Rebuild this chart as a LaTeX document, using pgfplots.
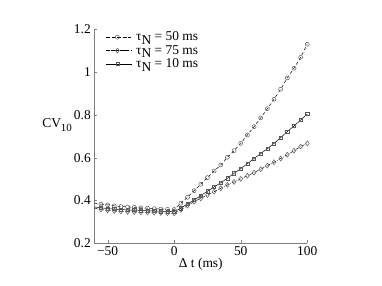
\documentclass[border=0pt]{standalone}
\usepackage{fontspec}
\setmainfont{Liberation Serif}
\usepackage{pgfplots}
\pgfplotsset{compat=1.18}
\begin{document}
\begin{tikzpicture}
\begin{axis}[
  name=ax,
  scale only axis,
  width=213bp, height=214bp,
  xmin=-60, xmax=100, ymin=0.2, ymax=1.2,
  axis lines*=left,
  axis line style={-, black!50},
  tick style={black!50},
  tick align=inside,
  major tick length=3bp,
  xtick={-50,0,50,100},
  xticklabels={−50,0,50,100},
  ytick={0.2,0.4,0.6,0.8,1,1.2},
  yticklabels={0.2,0.4,0.6,0.8,1,1.2},
  font=\fontsize{13.5}{15}\selectfont,
  /pgf/number format/assume math mode=true,
  xlabel={Δ t (ms)},
  xlabel style={at={(axis description cs:0.5,-0.115)}, anchor=base},
  ylabel={CV\raisebox{-0.75ex}{\fontsize{11}{12}\selectfont 10}},
  ylabel style={rotate=-90, at={(axis description cs:-0.245,0.543)}, anchor=base west, inner sep=0pt},
  legend cell align=left,
  legend style={draw=none, fill=none, at={(axis description cs:0.05,1.0)}, anchor=north west,
    font=\fontsize{13.5}{15}\selectfont, row sep=0bp, column sep=2bp, inner sep=1bp,
    nodes={inner sep=1.5bp}},
  legend image code/.code={\path (-1bp,0bp) -- (25bp,0bp);
     \draw[#1, mark=none] (0bp,0bp)--(20bp,0bp);
     \draw[#1, only marks] plot coordinates {(10bp,0bp)};},
  every axis plot/.append style={line width=0.5pt, black},
  mark size=2bp,
]
\addplot[dash pattern=on 3bp off 2.5bp, mark=o, mark options={solid, black!65}] coordinates {
(-55,0.383)(-50,0.380)(-45,0.375)(-40,0.372)(-35,0.370)(-30,0.368)(-25,0.366)(-20,0.364)(-15,0.362)(-10,0.360)(-5,0.359)(0,0.358)
(5,0.387)(10,0.415)(15,0.446)(20,0.476)(25,0.507)(30,0.538)(35,0.566)(40,0.602)(45,0.633)(50,0.667)
(55,0.706)(60,0.745)(65,0.786)(70,0.829)(75,0.873)(80,0.920)(85,0.973)(90,1.018)(95,1.069)(100,1.130)};
\addlegendentry{τ\raisebox{-0.6ex}{N} = 50 ms}
\addplot[dash pattern=on 3bp off 1.5bp on 0.6bp off 1.5bp, mark=diamond, mark options={solid, black!65}, mark size=2.5bp] coordinates {
(-55,0.358)(-50,0.354)(-45,0.351)(-40,0.349)(-35,0.347)(-30,0.346)(-25,0.345)(-20,0.344)(-15,0.343)(-10,0.342)(-5,0.341)(0,0.340)
(5,0.356)(10,0.376)(15,0.395)(20,0.410)(25,0.426)(30,0.441)(35,0.457)(40,0.473)(45,0.487)(50,0.501)
(55,0.516)(60,0.530)(65,0.546)(70,0.563)(75,0.579)(80,0.596)(85,0.614)(90,0.633)(95,0.652)(100,0.667)};
\addlegendentry{τ\raisebox{-0.6ex}{N} = 75 ms}
\addplot[solid, mark=square, mark options={solid, black!65}, mark size=1.6bp] coordinates {
(-55,0.366)(-50,0.362)(-45,0.360)(-40,0.358)(-35,0.356)(-30,0.355)(-25,0.354)(-20,0.352)(-15,0.351)(-10,0.350)(-5,0.349)(0,0.348)
(5,0.364)(10,0.384)(15,0.402)(20,0.423)(25,0.443)(30,0.463)(35,0.483)(40,0.504)(45,0.527)(50,0.549)
(55,0.572)(60,0.596)(65,0.619)(70,0.642)(75,0.667)(80,0.694)(85,0.722)(90,0.748)(95,0.776)(100,0.804)};
\addlegendentry{τ\raisebox{-0.6ex}{N} = 10 ms}
\addplot[forget plot, dash pattern=on 3bp off 2.5bp] coordinates {(-60,0.388)(-55,0.383)};
\addplot[forget plot, dash pattern=on 3bp off 1.5bp on 0.6bp off 1.5bp] coordinates {(-60,0.365)(-55,0.358)};
\addplot[forget plot, solid] coordinates {(-60,0.370)(-55,0.366)};
\end{axis}
\path[use as bounding box] (ax.south west) ++(-94.3bp,-42.7bp) rectangle ++(382bp,286bp);
\end{tikzpicture}
\end{document}
